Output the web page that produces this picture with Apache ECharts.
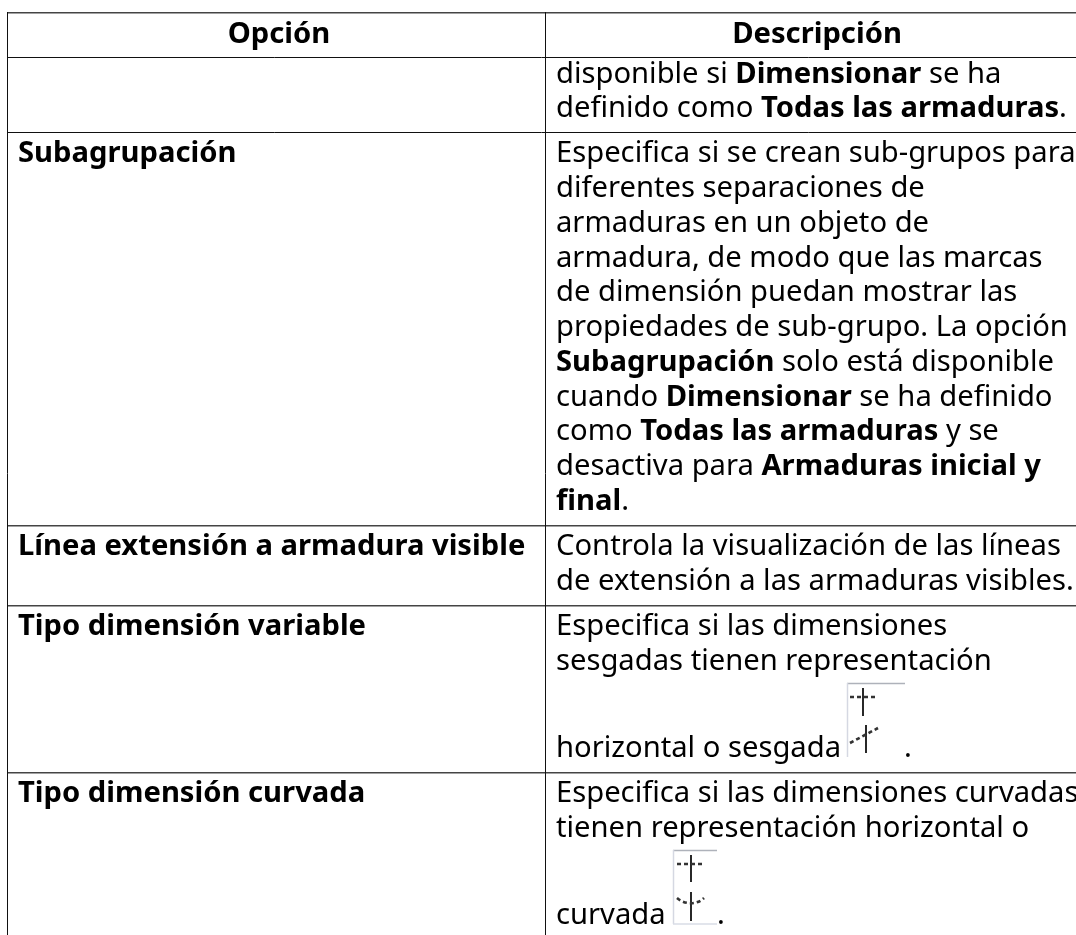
<!DOCTYPE html>
<html><head><meta charset="utf-8">
<style>html,body{margin:0;padding:0;background:#fff}#c{width:1076px;height:935px}</style>
<script src="https://cdn.jsdelivr.net/npm/echarts@6/dist/echarts.min.js"></script></head>
<body><div id="c"></div>
<script>
const headers = ['Opción', 'Descripción'];
const optionLabels = ['Subagrupación','Línea extensión a armadura visible','Tipo dimensión variable','Tipo dimensión curvada'];
// **bold** marks bold runs
const descriptionLines = [
  'disponible si **Dimensionar** se ha',
  'definido como **Todas las armaduras**.',
  'Especifica si se crean sub-grupos para',
  'diferentes separaciones de',
  'armaduras en un objeto de',
  'armadura, de modo que las marcas',
  'de dimensión puedan mostrar las',
  'propiedades de sub-grupo. La opción',
  '**Subagrupación** solo está disponible',
  'cuando **Dimensionar** se ha definido',
  'como **Todas las armaduras** y se',
  'desactiva para **Armaduras inicial y**',
  '**final**.',
  'Controla la visualización de las líneas',
  'de extensión a las armaduras visibles.',
  'Especifica si las dimensiones',
  'sesgadas tienen representación',
  'horizontal o sesgada',
  'Especifica si las dimensiones curvadas',
  'tienen representación horizontal o',
  'curvada'
];
const lineBaselines = [84,118,163,198,233,268,302,337,372,407,441,476,511,556,591,636,671,758,803,838,925];
const optionBaselines = [163,556,636,803];
const FONT = '"Noto Sans"', SIZE = 29.2;
const X0=7, X1=545, X2=1076, TEXT_X=556, OPT_X=18;
const rowY=[12,57,132,525,605,772];

function textEl(s,x,base,align){
  const parts=s.split('**');
  let t='';
  parts.forEach((p,i)=>{ if(p) t+='{'+(i%2?'b':'n')+'|'+p+'}'; });
  const st=w=>({fontFamily:FONT,fontSize:SIZE,fontWeight:w,fill:'#000',lineHeight:34});
  return {type:'text',x:x,y:base+8,silent:true,style:{
    text:t,fontFamily:FONT,fontSize:SIZE,fill:'#000',align:align||'left',verticalAlign:'bottom',
    rich:{n:st(400),b:st(700)}}};
}
const g=[];
rowY.forEach((y,i)=>{
  const soft=(i==0||i>=3);
  g.push({type:'line',silent:true,shape:{x1:X0,y1:y+(soft?.75:.5),x2:X2,y2:y+(soft?.75:.5)},style:{stroke:soft?'#444':'#111',lineWidth:soft?1.5:1}});
});
[X0,X1].forEach(x=>g.push({type:'line',silent:true,shape:{x1:x+.5,y1:12,x2:x+.5,y2:935},style:{stroke:'#111',lineWidth:1}}));
g.push(textEl('**'+headers[0]+'**',279,44,'center'));
g.push(textEl('**'+headers[1]+'**',817,44,'center'));
descriptionLines.forEach((s,i)=>g.push(textEl(s,TEXT_X,lineBaselines[i])));
optionLabels.forEach((o,i)=>g.push(textEl('**'+o+'**',OPT_X,optionBaselines[i])));
function L(a,b,c,d,col,lw,dash){g.push({type:'line',silent:true,shape:{x1:a,y1:b,x2:c,y2:d},style:{stroke:col,lineWidth:lw,lineDash:dash||null}});}
const DOTS=[4,3];
// sesgada icon
L(847,683.5,905,683.5,'#aeb2ba',1.5); L(847.5,683,847.5,757,'#d5d8e2',1.5);
L(863,688,863,716,'#111',1.8);
L(850,697,877,697,'#333',2.6,DOTS);
L(866,725,866,753,'#111',1.8);
L(850,743,878,728,'#333',2.6,DOTS);
g.push(textEl('.',904,758));
// curvada icon
L(673,850.5,717,850.5,'#aeb2ba',1.5); L(673.5,850,673.5,924,'#d5d8e2',1.5);
L(673,924,717,924,'#d8dde6',1.5);
L(691,855,691,882,'#111',1.8);
L(677,864,703,864,'#333',2.6,DOTS);
L(691,892,691,921,'#111',1.8);
g.push({type:'bezierCurve',silent:true,shape:{x1:677,y1:898,cpx1:685,cpy1:905,cpx2:697,cpy2:905,x2:704,y2:898},style:{stroke:'#333',fill:null,lineWidth:2.6,lineDash:DOTS}});
g.push(textEl('.',717,925));
echarts.init(document.getElementById('c'),null,{renderer:'canvas'}).setOption({animation:false,graphic:{elements:g}});
</script></body></html>
